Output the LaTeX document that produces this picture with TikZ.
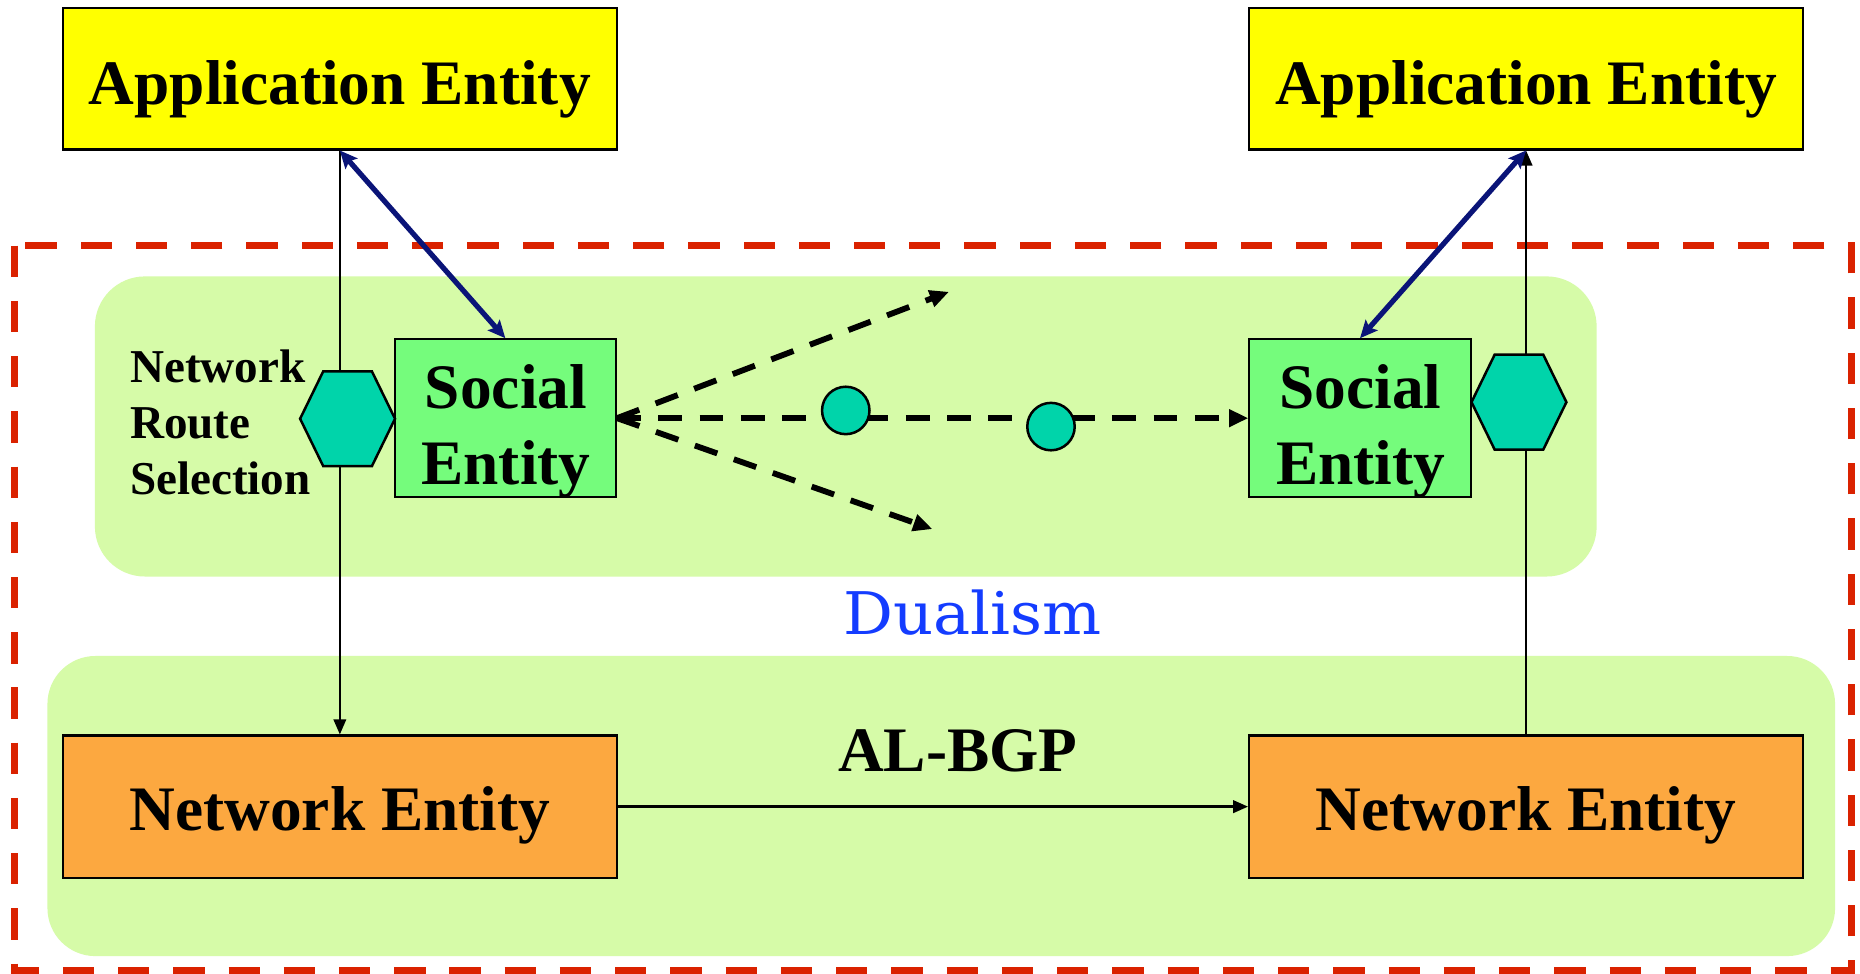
\documentclass[tikz,border=0pt]{standalone}
\usepackage{fontspec}
\setmainfont{Liberation Serif}
\newfontfamily\dualfont[FakeStretch=1.06]{DejaVu Serif}
\usetikzlibrary{arrows.meta}

\definecolor{appyellow}{RGB}{255,255,0}
\definecolor{socgreen}{RGB}{117,252,124}
\definecolor{hexteal}{RGB}{0,212,170}
\definecolor{panelgreen}{RGB}{214,251,168}
\definecolor{netorange}{RGB}{252,168,64}
\definecolor{linknavy}{RGB}{10,20,120}
\definecolor{framered}{RGB}{218,34,0}
\definecolor{dualblue}{RGB}{20,60,255}

\begin{document}
\begin{tikzpicture}[x=0.1mm, y=-0.1mm,
  bigtext/.style={font=\fontsize{15.2}{18.2}\selectfont\bfseries},
  smalltext/.style={font=\fontsize{11.3}{13.5}\selectfont\bfseries},
  entity/.style={draw=black, line width=0.5pt, inner sep=0pt, bigtext,
    text height=12.2pt, text depth=0pt},
  appbox/.style={entity, fill=appyellow, minimum width=46.7mm, minimum height=11.9mm},
  netbox/.style={entity, fill=netorange, minimum width=46.7mm, minimum height=12mm,
    text height=11.6pt},
  socbox/.style={draw=black, line width=0.5pt, fill=socgreen, inner sep=0pt,
    minimum width=18.65mm, minimum height=13.3mm},
  label/.style={inner sep=0pt},
  panel/.style={fill=panelgreen, rounded corners=12pt},
  frame/.style={draw=framered, line width=1.7pt, dash pattern=on 7.5pt off 5.75pt},
  thinlink/.style={draw=black, line width=0.45pt, -{Triangle[length=3.6pt,width=3pt]}},
  netlink/.style={thinlink, line width=0.6pt},
  dashlink/.style={draw=black, line width=1.4pt, dash pattern=on 5.7pt off 4.2pt,
    -{Triangle[length=4.6pt,width=4pt]}},
  bluelink/.style={draw=linknavy, line width=1.25pt,
    {Stealth[length=4.2pt,width=3.8pt,inset=0.8pt]}-{Stealth[length=4.2pt,width=3.8pt,inset=0.8pt]}},
  hexshape/.style={draw=black, line width=0.6pt, fill=hexteal},
  relay/.style={circle, draw=black, line width=0.6pt, fill=hexteal, minimum size=4mm, inner sep=0pt}
]
% canvas
\fill[white] (0,0) rectangle (1568,821);
\useasboundingbox (0,0) rectangle (1568,821);

% outer red frame
\draw[frame] (12,207) rectangle (1561,818);

% social and network layers
\path[panel] (80,233) rectangle (1346,486);
\path[panel, rounded corners=11.5pt] (40,553) rectangle (1547,806);

% layer labels
\node[label, anchor=base, font=\dualfont\fontsize{14.1}{17}\selectfont, text=dualblue]
  (dualism) at (819.5,534.6) {Dualism};
\node[label, anchor=base, bigtext] (albgp) at (807.5,650.6) {AL-BGP};

% entities
\node[appbox] (appL) at (286.5,66.5) {Application Entity};
\node[appbox] (appR) at (1286.5,66.5) {Application Entity};
\node[netbox] (netL) at (286.5,680) {Network Entity};
\node[netbox] (netR) at (1286.5,680) {Network Entity};
\node[socbox] (socL) at (426,352.5) {};
\node[socbox] (socR) at (1146.5,352.5) {};
\node[label, bigtext, anchor=north, align=center] (socLtxt) at (426.5,306.8) {Social\\Entity};
\node[label, bigtext, anchor=north, align=center] (socRtxt) at (1147,306.8) {Social\\Entity};
\node[label, smalltext, anchor=north west, align=left] (nrs) at (109,294) {Network\\Route\\Selection};

% vertical paths through the route selectors
\draw[thinlink] (appL.south) -- (netL.north);
\draw[thinlink] (netR.north) -- (appR.south);
\draw[netlink] (netL.east) -- (netR.west);

% route selectors
\coordinate (hexL) at (293,353);
\coordinate (hexR) at (1280.5,339);
\foreach \c in {hexL,hexR}{
  \draw[hexshape] ([shift={(-40,0)}]\c) -- ([shift={(-20.5,-40)}]\c) -- ([shift={(20.5,-40)}]\c)
    -- ([shift={(40,0)}]\c) -- ([shift={(20.5,40)}]\c) -- ([shift={(-20.5,40)}]\c) -- cycle;
}

% social links
\coordinate (upEnd) at (800,246);
\coordinate (downEnd) at (786,446);
\draw[dashlink] (socL.east) -- (upEnd);
\draw[dashlink] (socL.east) -- (downEnd);
\draw[dashlink] (socL.east) -- (socR.west);
\node[relay] (dotA) at (713,346) {};
\node[relay] (dotB) at (886,359.6) {};

% application to social entity
\draw[bluelink] (appL.south) -- (socL.north);
\draw[bluelink] (socR.north) -- (appR.south);
\end{tikzpicture}
\end{document}
